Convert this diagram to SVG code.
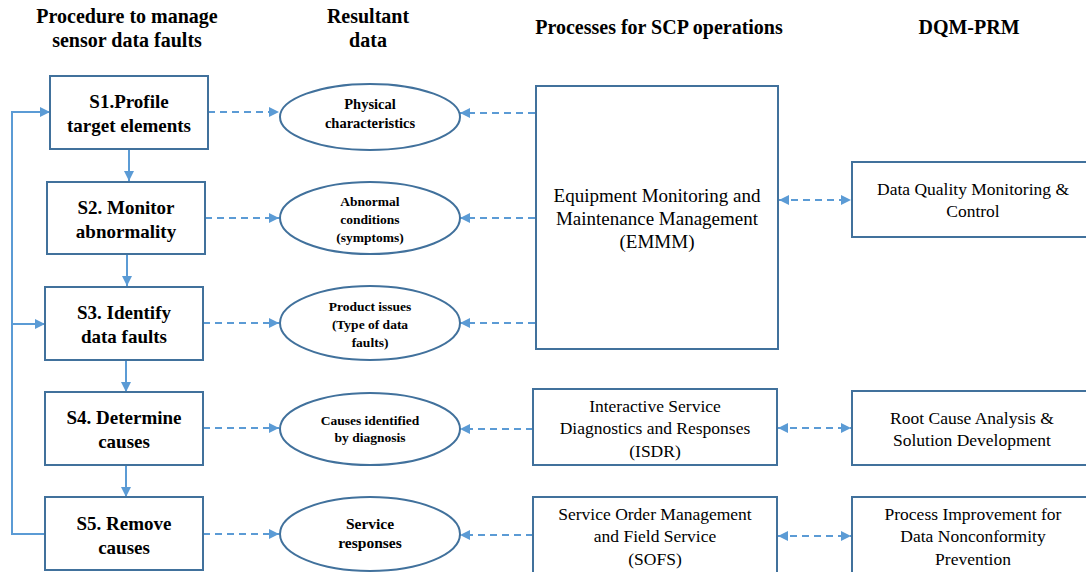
<svg xmlns="http://www.w3.org/2000/svg" width="1086" height="572" viewBox="0 0 1086 572" font-family="Liberation Serif, Times New Roman, serif">
  <defs>
    <marker id="tip" viewBox="0 0 10 10" refX="10" refY="5" markerWidth="10" markerHeight="10" markerUnits="userSpaceOnUse" orient="auto-start-reverse">
      <path d="M0,0 L10,5 L0,10 Z" fill="#5B9BD5"/>
    </marker>
    <style>
      .box { fill: #ffffff; stroke: #41719C; stroke-width: 2; }
      .oval { fill: #ffffff; stroke: #41719C; stroke-width: 2; }
      .solid { fill: none; stroke: #5B9BD5; stroke-width: 2; }
      .dash { fill: none; stroke: #5B9BD5; stroke-width: 2; stroke-dasharray: 7 5; }
      text { fill: #000; text-anchor: middle; }
      .hdr { font-weight: bold; font-size: 20px; }
      .step { font-weight: bold; font-size: 19px; }
      .res { font-weight: bold; font-size: 14.5px; }
      .res-s { font-weight: bold; font-size: 13.5px; }
      .res-l { font-weight: bold; font-size: 15.5px; }
      .proc { font-size: 19px; }
      .proc-s { font-size: 17.5px; }
    </style>
  </defs>

  <rect width="1086" height="572" fill="#ffffff"/>

  <!-- column headings -->
  <g id="headings">
    <text class="hdr" x="127" y="23">Procedure to manage</text>
    <text class="hdr" x="127" y="47">sensor data faults</text>
    <text class="hdr" x="368" y="23">Resultant</text>
    <text class="hdr" x="368" y="47">data</text>
    <text class="hdr" x="659" y="34">Processes for SCP operations</text>
    <text class="hdr" x="969" y="34">DQM-PRM</text>
  </g>

  <!-- connectors -->
  <g id="connectors">
    <!-- step sequence -->
    <line class="solid" x1="129" y1="149" x2="129" y2="181" marker-end="url(#tip)"/>
    <line class="solid" x1="127" y1="254" x2="127" y2="286" marker-end="url(#tip)"/>
    <line class="solid" x1="126" y1="360" x2="126" y2="392" marker-end="url(#tip)"/>
    <line class="solid" x1="126" y1="465" x2="126" y2="497" marker-end="url(#tip)"/>
    <!-- feedback loop -->
    <polyline class="solid" points="45,534 12,534 12,112 50,112" marker-end="url(#tip)"/>
    <line class="solid" x1="12" y1="324" x2="45" y2="324" marker-end="url(#tip)"/>
    <!-- steps to resultant data -->
    <line class="dash" x1="208" y1="112" x2="279" y2="112" marker-end="url(#tip)"/>
    <line class="dash" x1="205" y1="218" x2="279" y2="218" marker-end="url(#tip)"/>
    <line class="dash" x1="203" y1="323" x2="279" y2="323" marker-end="url(#tip)"/>
    <line class="dash" x1="203" y1="428" x2="279" y2="428" marker-end="url(#tip)"/>
    <line class="dash" x1="203" y1="534" x2="279" y2="534" marker-end="url(#tip)"/>
    <!-- processes to resultant data -->
    <line class="dash" x1="535" y1="113" x2="460" y2="113" marker-end="url(#tip)"/>
    <line class="dash" x1="535" y1="218" x2="460" y2="218" marker-end="url(#tip)"/>
    <line class="dash" x1="535" y1="323" x2="460" y2="323" marker-end="url(#tip)"/>
    <line class="dash" x1="533" y1="429" x2="460" y2="429" marker-end="url(#tip)"/>
    <line class="dash" x1="533" y1="535" x2="460" y2="535" marker-end="url(#tip)"/>
    <!-- processes to DQM-PRM -->
    <line class="dash" x1="779" y1="200" x2="851" y2="200" marker-start="url(#tip)" marker-end="url(#tip)"/>
    <line class="dash" x1="778" y1="428" x2="851" y2="428" marker-start="url(#tip)" marker-end="url(#tip)"/>
    <line class="dash" x1="778" y1="536" x2="851" y2="536" marker-start="url(#tip)" marker-end="url(#tip)"/>
  </g>

  <!-- procedure steps -->
  <g id="s1">
    <rect class="box" x="50" y="76" width="158" height="73"/>
    <text class="step" x="129" y="108">S1.Profile</text>
    <text class="step" x="129" y="132">target elements</text>
  </g>
  <g id="s2">
    <rect class="box" x="47" y="182" width="158" height="72"/>
    <text class="step" x="126" y="214">S2. Monitor</text>
    <text class="step" x="126" y="238">abnormality</text>
  </g>
  <g id="s3">
    <rect class="box" x="45" y="287" width="158" height="73"/>
    <text class="step" x="124" y="319">S3. Identify</text>
    <text class="step" x="124" y="343">data faults</text>
  </g>
  <g id="s4">
    <rect class="box" x="45" y="392" width="158" height="73"/>
    <text class="step" x="124" y="424">S4. Determine</text>
    <text class="step" x="124" y="448">causes</text>
  </g>
  <g id="s5">
    <rect class="box" x="45" y="497" width="158" height="73"/>
    <text class="step" x="124" y="530">S5. Remove</text>
    <text class="step" x="124" y="554">causes</text>
  </g>

  <!-- resultant data -->
  <g id="physical">
    <ellipse class="oval" cx="370" cy="117" rx="90" ry="33"/>
    <text class="res" x="370" y="109">Physical</text>
    <text class="res" x="370" y="128">characteristics</text>
  </g>
  <g id="abnormal">
    <ellipse class="oval" cx="370" cy="218" rx="90" ry="36"/>
    <text class="res-s" x="370" y="206">Abnormal</text>
    <text class="res-s" x="370" y="224">conditions</text>
    <text class="res-s" x="370" y="242">(symptoms)</text>
  </g>
  <g id="issues">
    <ellipse class="oval" cx="370" cy="323" rx="90" ry="37"/>
    <text class="res-s" x="370" y="311">Product issues</text>
    <text class="res-s" x="370" y="329">(Type of data</text>
    <text class="res-s" x="370" y="347">faults)</text>
  </g>
  <g id="causes">
    <ellipse class="oval" cx="370" cy="429" rx="90" ry="36"/>
    <text class="res-s" x="370" y="425">Causes identified</text>
    <text class="res-s" x="370" y="442">by diagnosis</text>
  </g>
  <g id="responses">
    <ellipse class="oval" cx="370" cy="534" rx="90" ry="37"/>
    <text class="res-l" x="370" y="529">Service</text>
    <text class="res-l" x="370" y="548">responses</text>
  </g>

  <!-- SCP processes -->
  <g id="emmm">
    <rect class="box" x="536" y="86" width="242" height="263"/>
    <text class="proc" x="657" y="202">Equipment Monitoring and</text>
    <text class="proc" x="657" y="225">Maintenance Management</text>
    <text class="proc" x="657" y="248">(EMMM)</text>
  </g>
  <g id="isdr">
    <rect class="box" x="533" y="389" width="244" height="76"/>
    <text class="proc-s" x="655" y="412">Interactive Service</text>
    <text class="proc-s" x="655" y="434">Diagnostics and Responses</text>
    <text class="proc-s" x="655" y="457">(ISDR)</text>
  </g>
  <g id="sofs">
    <rect class="box" x="533" y="497" width="244" height="80"/>
    <text class="proc-s" x="655" y="520">Service Order Management</text>
    <text class="proc-s" x="655" y="542">and Field Service</text>
    <text class="proc-s" x="655" y="565">(SOFS)</text>
  </g>

  <!-- DQM-PRM -->
  <g id="dqm">
    <rect class="box" x="852" y="162" width="244" height="75"/>
    <text class="proc-s" x="973" y="195">Data Quality Monitoring &amp;</text>
    <text class="proc-s" x="973" y="217">Control</text>
  </g>
  <g id="rca">
    <rect class="box" x="852" y="391" width="244" height="74"/>
    <text class="proc-s" x="972" y="424">Root Cause Analysis &amp;</text>
    <text class="proc-s" x="972" y="446">Solution Development</text>
  </g>
  <g id="improve">
    <rect class="box" x="852" y="497" width="244" height="80"/>
    <text class="proc-s" x="973" y="520">Process Improvement for</text>
    <text class="proc-s" x="973" y="542">Data Nonconformity</text>
    <text class="proc-s" x="973" y="565">Prevention</text>
  </g>
</svg>
